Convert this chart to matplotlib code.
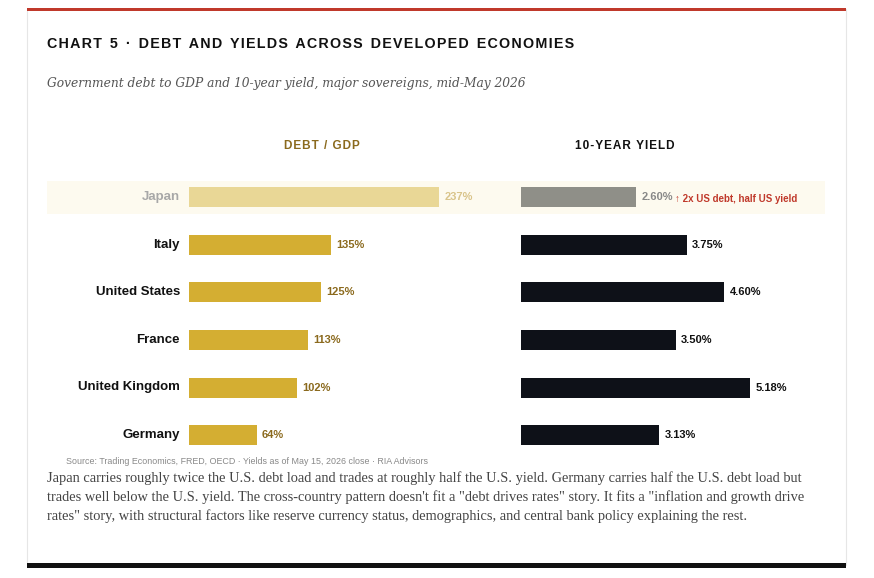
import matplotlib
matplotlib.use("Agg")
import matplotlib.pyplot as plt
from matplotlib.patches import Rectangle

countries = ["Japan", "Italy", "United States", "France", "United Kingdom", "Germany"]
debt = [237, 135, 125, 113, 102, 64]
yields = [2.60, 3.75, 4.60, 3.50, 5.18, 3.13]
debt_labels = ["237%", "135%", "125%", "113%", "102%", "64%"]
yield_labels = ["2.60%", "3.75%", "4.60%", "3.50%", "5.18%", "3.13%"]

W, H = 874, 578
fig = plt.figure(figsize=(W/100, H/100), dpi=100)
fig.patch.set_facecolor("white")

def fx(px): return px / W
def fy(py): return 1 - py / H

bg = fig.add_axes([0, 0, 1, 1], zorder=-10)
bg.set_xlim(0, W); bg.set_ylim(H, 0); bg.axis("off")
bg.add_patch(Rectangle((27, 9), 819, 556, facecolor="white", edgecolor="#e6e6e6", lw=0.8))
bg.add_patch(Rectangle((27, 8), 819, 3, facecolor="#c0392b", edgecolor="none"))
bg.add_patch(Rectangle((27, 563), 819, 5, facecolor="#111111", edgecolor="none"))
bg.add_patch(Rectangle((47, 181), 778, 33, facecolor="#fdfaef", edgecolor="none"))

sans = ["Liberation Sans", "DejaVu Sans"]
serif = ["DejaVu Serif"]
title = "CHART 5 · DEBT AND YIELDS ACROSS DEVELOPED ECONOMIES"
spaced = "\u200a".join(title).replace("\u200a \u200a", "  ")
fig.text(fx(47), fy(44), spaced, family=sans, fontsize=10.3, fontweight="bold", color="#111111", va="center")
fig.text(fx(47), fy(83), "Government debt to GDP and 10-year yield, major sovereigns, mid-May 2026",
         family=serif, style="italic", fontsize=8.8, color="#555555", va="center")
fig.text(fx(322), fy(146), "\u200a".join("DEBT / GDP"), family=sans, fontsize=8.5, fontweight="bold", color="#8b6a1e", ha="center", va="center")
fig.text(fx(625), fy(146), "\u200a".join("10-YEAR YIELD"), family=sans, fontsize=8.5, fontweight="bold", color="#111111", ha="center", va="center")

top, bot = 173.5, 459
axL = fig.add_axes([fx(189), fy(bot), (250/237*260)/W, (bot-top)/H])
axR = fig.add_axes([fx(521), fy(bot), (229/5.18*7)/W, (bot-top)/H])
axL.set_xlim(0, 260); axR.set_xlim(0, 7)
ypos = list(range(len(countries)))
for ax in (axL, axR):
    ax.set_ylim(len(countries)-0.5, -0.5)
    ax.axis("off")

dcol = ["#e9d796"] + ["#d4ae32"]*5
ycol = ["#8f8f88"] + ["#0e1118"]*5
axL.barh(ypos, debt, height=0.42, color=dcol)
axR.barh(ypos, yields, height=0.42, color=ycol)
for i in ypos:
    jp = i == 0
    axL.text(debt[i] + 5, i, debt_labels[i], family=sans, fontsize=8, fontweight="bold",
             color="#d9c48a" if jp else "#8b6a1e", va="center")
    axR.text(yields[i] + 0.12, i, yield_labels[i], family=sans, fontsize=8, fontweight="bold",
             color="#888888" if jp else "#111111", va="center")
    fig.text(fx(180), fy(197 + i*47.6), countries[i], family=sans, fontsize=9.5, fontweight="bold",
             color="#a8a8a8" if jp else "#111111", ha="right", va="center")
fig.text(fx(675), fy(199), "↑ 2x US debt, half US yield", family=sans, fontsize=7, fontweight="bold",
         color="#c0392b", va="center")

fig.text(fx(66), fy(462), "Source: Trading Economics, FRED, OECD · Yields as of May 15, 2026 close · RIA Advisors",
         family=sans, fontsize=6.4, color="#888888", va="center")
body = ("Japan carries roughly twice the U.S. debt load and trades at roughly half the U.S. yield. Germany carries half the U.S. debt load but\n"
        "trades well below the U.S. yield. The cross-country pattern doesn't fit a \"debt drives rates\" story. It fits a \"inflation and growth drive\n"
        "rates\" story, with structural factors like reserve currency status, demographics, and central bank policy explaining the rest.")
fig.text(fx(47), fy(471), body, family=["Liberation Serif"], fontsize=10.4, color="#444444", va="top", linespacing=1.5)

fig.savefig("out.png", dpi=100, facecolor="white")
